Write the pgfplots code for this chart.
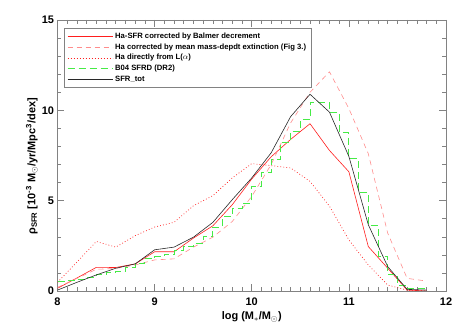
\documentclass[border=0pt]{standalone}
\usepackage{fontspec}
\setmainfont{Liberation Sans}
\usepackage{pgfplots}
\pgfplotsset{compat=1.18}

\definecolor{sfrred}{RGB}{255,30,30}
\definecolor{sfrpink}{RGB}{255,140,140}
\definecolor{sfrgreen}{RGB}{70,235,70}
\definecolor{sfrgray}{RGB}{40,40,40}
\definecolor{boxgray}{RGB}{130,130,130}

\begin{document}
\begin{tikzpicture}
\useasboundingbox (-57.5bp,-40bp) rectangle (405.5bp,291bp);
\begin{axis}[
  at={(0,0)}, anchor=south west,
  scale only axis, width=388.5bp, height=271bp,
  xmin=8, xmax=12, ymin=0, ymax=15,
  xtick={8,9,10,11,12}, ytick={0,5,10,15},
  minor x tick num=9, minor y tick num=4,
  tick align=inside,
  major tick length=7bp, minor tick length=4bp,
  axis line style={boxgray, line width=0.6pt},
  tick style={boxgray, line width=0.6pt},
  font=\bfseries\fontsize{11}{13}\selectfont,
  /pgf/number format/assume math mode=true,
  xticklabel style={yshift=-3bp},
  xlabel={log (M$_*$/M$_\odot$)},
  xlabel style={at={(axis description cs:0.5,0)}, anchor=north, yshift=-17bp},
  ylabel={ρ\textsubscript{SFR} [10\textsuperscript{-3} M$_\odot$/yr/Mpc\textsuperscript{3}/dex]},
  ylabel style={at={(axis description cs:-0.066,0.46)}, anchor=center},
  legend style={at={(axis description cs:0.0167,0.97)}, anchor=north west,
    draw=boxgray, line width=0.6pt,
    font=\bfseries\fontsize{7.7}{9}\selectfont,
    row sep=-0.3bp, inner xsep=3bp, inner ysep=2.5bp},
  legend cell align=left,
  legend image code/.code={\draw[#1] (0bp,0bp) -- (45bp,0bp);},
]
\addplot[sfrred, line width=0.6pt] coordinates {
 (8.0,0.15) (8.2,0.72) (8.4,1.31) (8.6,1.30) (8.8,1.50) (9.0,2.17)
 (9.2,2.17) (9.4,2.93) (9.6,3.61) (9.8,4.78) (10.0,6.20) (10.2,7.43)
 (10.4,8.39) (10.6,9.26) (10.8,7.78) (11.0,6.60) (11.2,2.46) (11.4,1.26)
 (11.6,0.05) (11.8,0.0)};
\addlegendentry{Ha-SFR corrected by Balmer decrement}
\addplot[sfrpink, line width=0.6pt, dash pattern=on 5bp off 4bp] coordinates {
 (8.0,0.20) (8.2,0.70) (8.4,1.20) (8.6,1.25) (8.8,1.44) (9.0,1.72)
 (9.2,1.78) (9.4,2.43) (9.6,2.98) (9.8,3.85) (10.0,5.24) (10.2,7.00)
 (10.4,9.30) (10.6,11.00) (10.8,12.13) (11.0,10.10) (11.2,7.60) (11.4,3.20)
 (11.6,0.70) (11.8,0.55)};
\addlegendentry{Ha corrected by mean mass-depdt extinction (Fig 3.)}
\addplot[sfrred, line width=0.7pt, dash pattern=on 0.8bp off 2.2bp] coordinates {
 (8.0,0.48) (8.2,1.60) (8.4,2.74) (8.6,2.43) (8.8,3.06) (9.0,3.54)
 (9.2,3.80) (9.4,4.72) (9.6,5.28) (9.8,6.26) (10.0,7.05) (10.2,6.94)
 (10.4,6.81) (10.6,6.07) (10.8,4.70) (11.0,2.83) (11.2,1.44) (11.4,0.33)
 (11.6,0.05) (11.8,0.0)};
\addlegendentry{Ha directly from L($\alpha$)}
\addplot[sfrgreen, line width=0.9pt, dash pattern=on 7bp off 4bp, const plot] coordinates {
 (8.0,0.55) (8.1,0.60) (8.2,0.65) (8.3,0.75) (8.4,0.90) (8.5,1.00)
 (8.6,1.10) (8.7,1.30) (8.8,1.50) (8.9,1.78) (9.0,1.90) (9.1,2.05)
 (9.2,2.25) (9.3,2.45) (9.4,2.65) (9.5,3.00) (9.6,3.54) (9.7,4.13)
 (9.8,4.59) (9.9,4.87) (10.0,5.80) (10.1,6.54) (10.2,7.28) (10.3,8.20)
 (10.4,8.85) (10.5,9.50) (10.6,10.46) (10.7,10.46) (10.8,9.87) (10.9,8.76)
 (11.0,7.33) (11.1,5.43) (11.2,3.61) (11.3,1.94) (11.4,0.94) (11.5,0.33)
 (11.6,0.15) (11.7,0.15) (11.8,0.0) (11.9,0.0) (12.0,0.0)};
\addlegendentry{B04 SFRD (DR2)}
\addplot[sfrgray, line width=0.6pt] coordinates {
 (8.0,0.05) (8.2,0.48) (8.4,0.89) (8.6,1.26) (8.8,1.50) (9.0,2.28)
 (9.2,2.43) (9.4,2.98) (9.6,3.80) (9.8,5.06) (10.0,6.26) (10.2,7.65)
 (10.4,9.65) (10.6,10.89) (10.8,9.90) (11.0,7.45) (11.2,3.67) (11.4,1.35)
 (11.6,0.09) (11.8,0.05)};
\addlegendentry{SFR\_tot}
\end{axis}
\end{tikzpicture}
\end{document}
